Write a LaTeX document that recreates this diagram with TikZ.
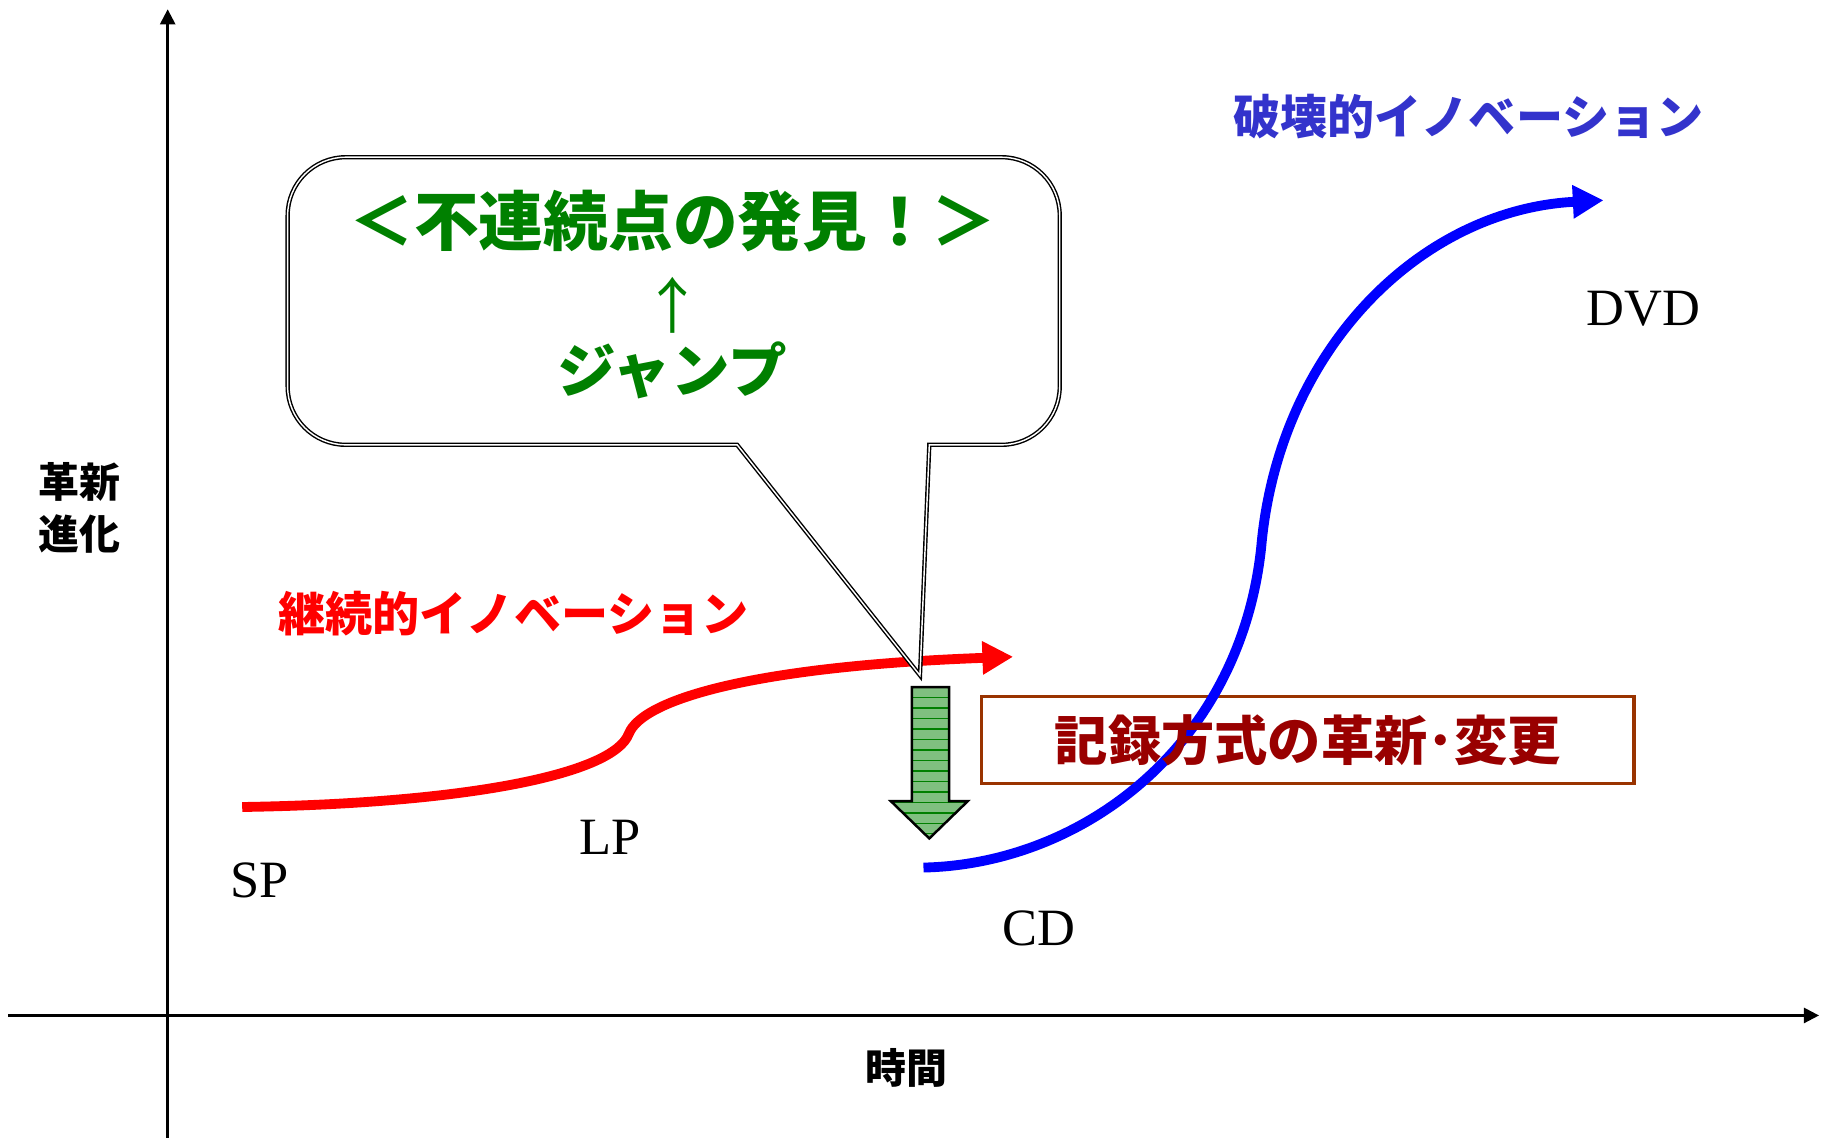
\documentclass[tikz,border=0pt]{standalone}
\usepackage{fontspec}
\setmainfont{Liberation Serif}
\newfontfamily\jpfont{Noto Sans CJK JP}
\usetikzlibrary{arrows.meta}

\definecolor{jumpgreen}{RGB}{0,128,0}
\definecolor{arrowgreen}{RGB}{128,192,128}
\definecolor{disruptblue}{RGB}{51,51,204}
\definecolor{recordred}{RGB}{153,0,0}
\definecolor{boxbrown}{RGB}{153,51,0}

\begin{document}
\begin{tikzpicture}[x=0.01cm, y=-0.01cm,
    axis/.style={line width=0.6pt, -{Triangle[length=3.7pt,width=3.7pt]}},
    innovation/.style={line width=2.4pt, -{Triangle[length=7.5pt,width=7.7pt]}},
    label/.style={inner sep=0pt, font=\fontsize{12.8}{15}\selectfont},
    jplabel/.style={inner sep=0pt, align=center},
    callout/.style={draw=black, fill=white, double=white, line width=0.35pt, double distance=0.35pt},
    jumparrow/.style={fill=arrowgreen, draw=black, line width=0.6pt,
      path picture={
        \foreach \k in {1,...,14}
          \draw[jumpgreen, line width=0.3pt]
            ([yshift=-\k*0.09cm]path picture bounding box.north west) --
            ([yshift=-\k*0.09cm]path picture bounding box.north east);
      }}]

  \useasboundingbox (0,0) rectangle (1568,977);

  % axes
  \coordinate (yfoot) at (144,977);
  \coordinate (ytop) at (144,8);
  \coordinate (xfoot) at (7,872);
  \coordinate (xend) at (1562,872);
  \draw[axis] (yfoot) -- (ytop);
  \draw[axis] (xfoot) -- (xend);

  \node[jplabel, font=\jpfont\bfseries\fontsize{10}{12.8}\selectfont] (vlabel) at (68,436) {革新\\進化};
  \node[jplabel, font=\jpfont\bfseries\fontsize{10}{12.8}\selectfont] (hlabel) at (778,917) {時間};

  % sustaining innovation
  \draw[innovation, red] (208,693) .. controls (400,690) and (527,665) .. (540,630)
    .. controls (552,600) and (650,572) .. (870,564);
  \node[jplabel, red, font=\jpfont\bfseries\fontsize{11.5}{14}\selectfont] (sustain) at (441,527) {継続的イノベーション};

  % record change box, text goes on top of the blue curve
  \node[draw=boxbrown, line width=0.85pt, minimum width=5.6cm, minimum height=0.75cm, inner sep=0pt] (changebox) at (1123,635.5) {};

  % disruptive innovation
  \draw[innovation, blue] (793,745) .. controls (930,742) and (1065,640) .. (1083,470)
    .. controls (1098,300) and (1220,180) .. (1377,172);
  \node[jplabel, disruptblue, font=\jpfont\bfseries\fontsize{11.5}{14}\selectfont] (disrupt) at (1261,100) {破壊的イノベーション};

  \node[jplabel, recordred, font=\jpfont\bfseries\fontsize{13}{15}\selectfont] (changetext) at (changebox) {記録方式の革新･変更};

  % jump arrow
  \draw[jumparrow] (783,590) -- (815,590) -- (815,688) -- (831,688) -- (798,720) -- (765,688) -- (783,688) -- cycle;

  % callout
  \draw[callout] (798,382) -- (790,580) -- (633,382) [rounded corners=0.5cm] -- (247,382) -- (247,135) -- (910,135) -- (910,382)
    [sharp corners] -- cycle;
  \node[jplabel, jumpgreen, font=\jpfont\bfseries\fontsize{15.8}{18}\selectfont] (discovery) at (578,190) {＜不連続点の発見！＞};
  \node[jplabel, jumpgreen, font=\jpfont\fontsize{14.8}{17}\selectfont] (uparrow) at (578,262) {↑};
  \node[jplabel, jumpgreen, font=\jpfont\bfseries\fontsize{14.3}{17}\selectfont] (jump) at (577,318) {ジャンプ};

  % media
  \node[label] (sp) at (223,756) {SP};
  \node[label] (lp) at (524,719) {LP};
  \node[label] (cd) at (892,797) {CD};
  \node[label] (dvd) at (1411,265) {DVD};

\end{tikzpicture}
\end{document}
